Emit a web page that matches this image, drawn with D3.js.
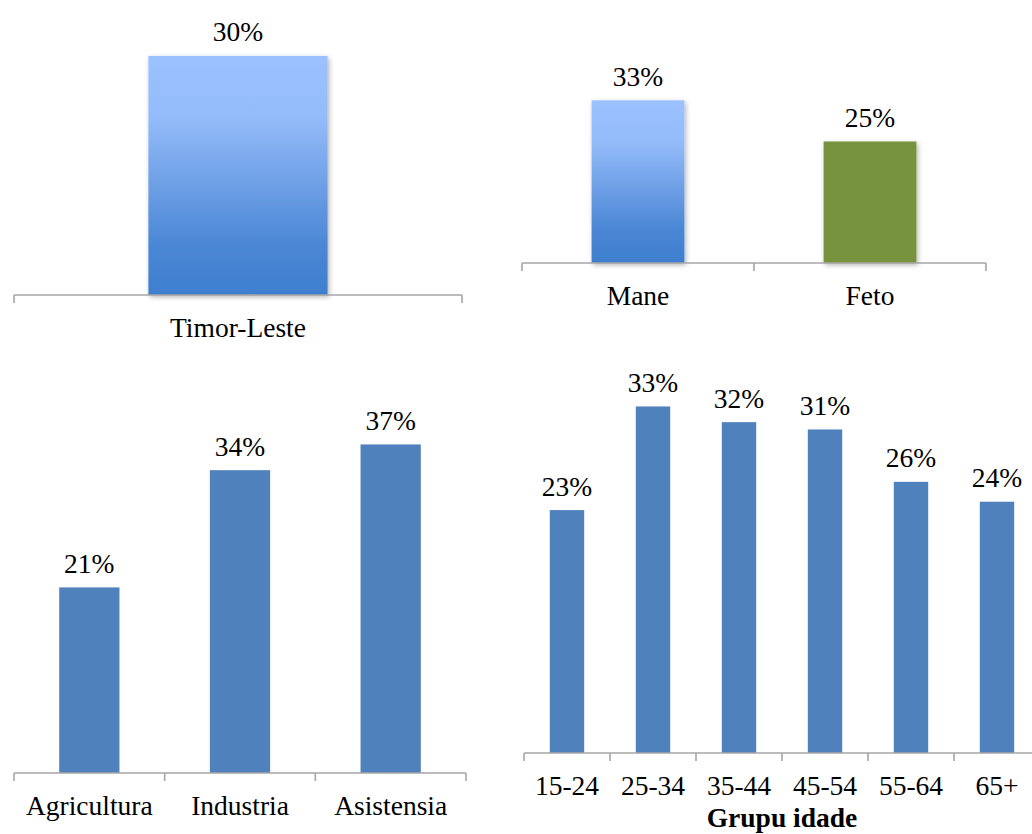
<!DOCTYPE html>
<meta charset="utf-8">
<script src="https://d3js.org/d3.v7.min.js"></script>
<style>
  body { margin: 0; background: #fff; }
  text { font-family: "Liberation Serif", serif; font-size: 27.5px; fill: #000; }
</style>
<div id="my_dataviz"></div>
<script>

  // data (labels are rounded)
  const nationCategories = ["Timor-Leste"];
  const nationValues = [30];
  const sexCategories = ["Mane", "Feto"];
  const sexValues = [33.2, 24.8];
  const sectorCategories = ["Agricultura", "Industria", "Asistensia"];
  const sectorValues = [20.9, 34.1, 37.0];
  const ageCategories = ["15-24", "25-34", "35-44", "45-54", "55-64", "65+"];
  const ageValues = [23.2, 33.1, 31.6, 30.9, 25.9, 24.0];

  const width = 1032, height = 834;

  const svg = d3.select("#my_dataviz")
    .append("svg")
      .attr("width", width)
      .attr("height", height);

  const defs = svg.append("defs");
  const grad = defs.append("linearGradient")
      .attr("id", "blueGrad")
      .attr("x1", 0).attr("y1", 0).attr("x2", 0).attr("y2", 1);
  grad.append("stop").attr("offset", "0%").attr("stop-color", "#9bc2ff");
  grad.append("stop").attr("offset", "25%").attr("stop-color", "#95bcfa");
  grad.append("stop").attr("offset", "80%").attr("stop-color", "#4a86d4");
  grad.append("stop").attr("offset", "100%").attr("stop-color", "#3e7fcf");

  const shadow = defs.append("filter")
      .attr("id", "shadow")
      .attr("x", "-20%").attr("y", "-20%").attr("width", "140%").attr("height", "140%");
  shadow.append("feDropShadow")
      .attr("dx", 1.5).attr("dy", 2)
      .attr("stdDeviation", 2.5)
      .attr("flood-color", "#000")
      .attr("flood-opacity", 0.3);

  // one small bar panel
  function drawPanel(cats, vals, o) {
    const g = svg.append("g");

    const x = d3.scaleBand()
      .domain(cats)
      .range([o.x0, o.x1])
      .padding(0);

    const y = d3.scaleLinear()
      .domain([0, o.ymax])
      .range([o.y0, o.y0 - o.ymax * o.pxPerUnit]);

    const bw = x.bandwidth();

    g.selectAll("rect.bar")
      .data(vals)
      .join("rect")
        .attr("class", "bar")
        .attr("x", (d, i) => x(cats[i]) + bw * 0.3)
        .attr("width", bw * 0.4)
        .attr("y", d => y(d))
        .attr("height", d => y(0) - y(d))
        .attr("fill", (d, i) => o.colors[i % o.colors.length])
        .attr("filter", o.shadow ? "url(#shadow)" : null);

    // value labels
    g.selectAll("text.val")
      .data(vals)
      .join("text")
        .attr("class", "val")
        .attr("x", (d, i) => x(cats[i]) + bw / 2)
        .attr("y", d => y(d) - 14.5)
        .attr("text-anchor", "middle")
        .text(d => Math.round(d) + "%");

    // category labels
    const axis = d3.axisBottom(x).tickSize(0).tickPadding(42);
    const ax = g.append("g")
      .attr("transform", `translate(0,${o.y0})`)
      .call(axis);
    ax.select(".domain").remove();
    ax.selectAll("text")
      .attr("dy", 0)
      .style("font-family", "Liberation Serif")
      .style("font-size", "27.5px")
      .attr("fill", "#000");

    // axis line, ticks at the band boundaries
    const bounds = cats.map(c => x(c)).concat([o.x1]);
    g.append("path")
      .attr("d", `M${o.x0},${o.y0}H${o.x1}`)
      .attr("stroke", "#a6a6a6")
      .attr("stroke-width", 1.6)
      .attr("fill", "none");
    g.selectAll("line.tick")
      .data(bounds)
      .join("line")
        .attr("class", "tick")
        .attr("x1", d => d).attr("x2", d => d)
        .attr("y1", o.y0).attr("y2", o.y0 + 8)
        .attr("stroke", "#a6a6a6")
        .attr("stroke-width", 1.6);

    if (o.title) {
      g.append("text")
        .attr("x", (o.x0 + o.x1) / 2)
        .attr("y", o.y0 + 74)
        .attr("text-anchor", "middle")
        .style("font-weight", "bold")
        .text(o.title);
    }
  }

  drawPanel(nationCategories, nationValues, {
    x0: 14, x1: 462, y0: 295, ymax: 35, pxPerUnit: 7.97,
    colors: ["url(#blueGrad)"], shadow: true
  });

  drawPanel(sexCategories, sexValues, {
    x0: 522, x1: 986, y0: 263, ymax: 35, pxPerUnit: 4.9,
    colors: ["url(#blueGrad)", "#77933c"], shadow: true
  });

  drawPanel(sectorCategories, sectorValues, {
    x0: 14, x1: 466, y0: 773, ymax: 40, pxPerUnit: 8.88,
    colors: ["#4f81bd"], shadow: false
  });

  drawPanel(ageCategories, ageValues, {
    x0: 524, x1: 1040, y0: 753, ymax: 35, pxPerUnit: 10.47,
    colors: ["#4f81bd"], shadow: false, title: "Grupu idade"
  });

</script>
